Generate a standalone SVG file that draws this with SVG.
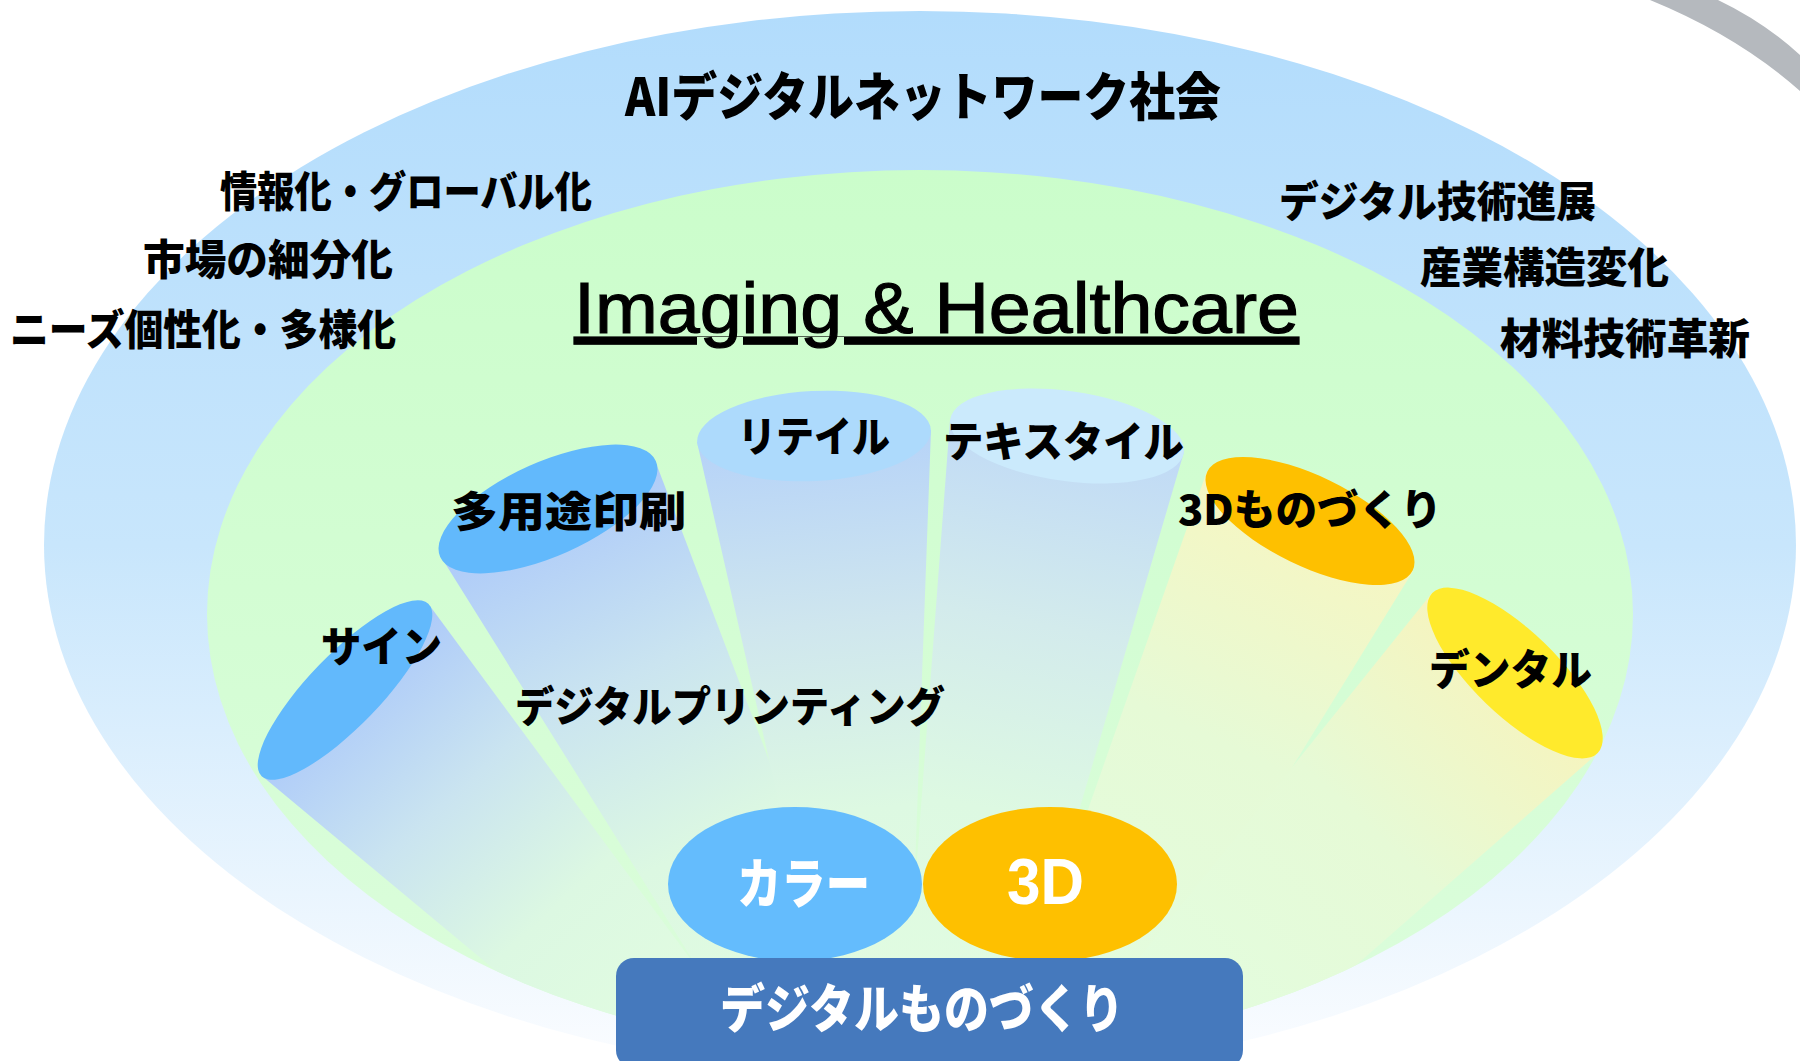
<svg xmlns="http://www.w3.org/2000/svg" width="1800" height="1061" viewBox="0 0 1800 1061">
<style>
.lbl{font-family:"Noto Sans CJK JP","Noto Sans",sans-serif;font-weight:900;fill:#000}
.wht{font-family:"Noto Sans CJK JP","Noto Sans",sans-serif;font-weight:900;fill:#fff}
</style>
<defs>
<linearGradient id="gOuter" gradientUnits="userSpaceOnUse" x1="0" y1="11" x2="0" y2="1079">
<stop offset="0" stop-color="#b2dcfc"/><stop offset="0.5" stop-color="#c8e6fc"/><stop offset="1" stop-color="#fcfdff"/>
</linearGradient>
<linearGradient id="gInner" gradientUnits="userSpaceOnUse" x1="0" y1="170" x2="0" y2="1058">
<stop offset="0" stop-color="#cbfdcb"/><stop offset="1" stop-color="#dcfddc"/>
</linearGradient>
<linearGradient id="bSign" gradientUnits="userSpaceOnUse" x1="346" y1="691" x2="684" y2="1060">
<stop offset="0" stop-color="#aecbf9"/><stop offset="0.3" stop-color="#cae4f0"/><stop offset="0.6" stop-color="#dcf8e2"/><stop offset="1" stop-color="#e2fde0"/>
</linearGradient>
<linearGradient id="bMulti" gradientUnits="userSpaceOnUse" x1="549" y1="511" x2="819" y2="1060">
<stop offset="0" stop-color="#aecbf9"/><stop offset="0.3" stop-color="#cae4f0"/><stop offset="0.6" stop-color="#dcf8e2"/><stop offset="1" stop-color="#e2fde0"/>
</linearGradient>
<linearGradient id="bRetail" gradientUnits="userSpaceOnUse" x1="814" y1="436" x2="872" y2="1060">
<stop offset="0" stop-color="#b6d3f8"/><stop offset="0.3" stop-color="#cfe6ee"/><stop offset="0.6" stop-color="#ddf9e2"/><stop offset="1" stop-color="#e2fde0"/>
</linearGradient>
<linearGradient id="bTex" gradientUnits="userSpaceOnUse" x1="1067" y1="436" x2="954" y2="1060">
<stop offset="0" stop-color="#c0daf6"/><stop offset="0.3" stop-color="#d3ebec"/><stop offset="0.6" stop-color="#ddf9e2"/><stop offset="1" stop-color="#e2fde0"/>
</linearGradient>
<linearGradient id="b3d" gradientUnits="userSpaceOnUse" x1="1310" y1="521" x2="1056" y2="1060">
<stop offset="0" stop-color="#f6f6c2"/><stop offset="0.4" stop-color="#e6fad6"/><stop offset="1" stop-color="#e2fde0"/>
</linearGradient>
<linearGradient id="bDent" gradientUnits="userSpaceOnUse" x1="1515" y1="673" x2="1152" y2="1060">
<stop offset="0" stop-color="#f6f4be"/><stop offset="0.4" stop-color="#e6fad6"/><stop offset="1" stop-color="#e2fde0"/>
</linearGradient>
<clipPath id="clipInner"><ellipse cx="920" cy="614" rx="713" ry="444"/></clipPath>
</defs>

<g id="background">
<rect x="0" y="0" width="1800" height="1061" fill="#ffffff"/>
<path d="M1650,0 Q1738,36 1800,91 L1800,55 Q1764,22 1718,0 Z" fill="#b5b9be"/>
</g>

<g id="society">
<ellipse cx="920" cy="545" rx="876" ry="534" fill="url(#gOuter)"/>
</g>

<g id="imaging">
<ellipse cx="920" cy="614" rx="713" ry="444" fill="url(#gInner)"/>
<text x="574" y="333" font-family="Liberation Sans, Arial, sans-serif" font-size="72" fill="#000" stroke="#000" stroke-width="1.2" textLength="725" lengthAdjust="spacingAndGlyphs" text-decoration="underline">Imaging &amp; Healthcare</text>
</g>

<g id="society-labels">
<text class="lbl" x="625" y="116" font-size="52" textLength="596" lengthAdjust="spacingAndGlyphs">AIデジタルネットワーク社会</text>
<text class="lbl" x="220" y="207" font-size="42" textLength="372" lengthAdjust="spacingAndGlyphs">情報化・グローバル化</text>
<text class="lbl" x="143" y="275" font-size="42" textLength="250" lengthAdjust="spacingAndGlyphs">市場の細分化</text>
<text class="lbl" x="10" y="345" font-size="42" textLength="386" lengthAdjust="spacingAndGlyphs">ニーズ個性化・多様化</text>
<text class="lbl" x="1279" y="217" font-size="42" textLength="317" lengthAdjust="spacingAndGlyphs">デジタル技術進展</text>
<text class="lbl" x="1420" y="283" font-size="42" textLength="249" lengthAdjust="spacingAndGlyphs">産業構造変化</text>
<text class="lbl" x="1500" y="354" font-size="42" textLength="250" lengthAdjust="spacingAndGlyphs">材料技術革新</text>
</g>

<g id="connectors" clip-path="url(#clipInner)">
<polygon points="262,776 430,606 765,1060 603,1060" fill="url(#bSign)"/>
<polygon points="443,560 656,463 883,1060 755,1060" fill="url(#bMulti)"/>
<polygon points="697,442 931,430 908,1060 837,1060" fill="url(#bRetail)"/>
<polygon points="950,420 1184,452 1006,1060 902,1060" fill="url(#bTex)"/>
<polygon points="1207,471 1413,571 1112,1060 1000,1060" fill="url(#b3d)"/>
<polygon points="1432,593 1598,753 1248,1060 1057,1060" fill="url(#bDent)"/>
</g>

<g id="sign">
<ellipse cx="345" cy="690" rx="120" ry="36" transform="rotate(-46 345 690)" fill="#62b9fc"/>
<text class="lbl" x="321" y="662" font-size="42" textLength="121" lengthAdjust="spacingAndGlyphs">サイン</text>
</g>
<g id="multi-printing">
<ellipse cx="548" cy="509" rx="118" ry="47" transform="rotate(-24 548 509)" fill="#62b9fc"/>
<text class="lbl" x="451" y="527" font-size="42" textLength="235" lengthAdjust="spacingAndGlyphs">多用途印刷</text>
</g>
<g id="retail">
<ellipse cx="814" cy="436" rx="117" ry="45" transform="rotate(-3 814 436)" fill="#addafc"/>
<text class="lbl" x="738" y="452" font-size="42" textLength="152" lengthAdjust="spacingAndGlyphs">リテイル</text>
</g>
<g id="textile">
<ellipse cx="1067" cy="436" rx="118" ry="45" transform="rotate(8 1067 436)" fill="#cbeafc"/>
<text class="lbl" x="943" y="457" font-size="42" textLength="241" lengthAdjust="spacingAndGlyphs">テキスタイル</text>
</g>
<g id="3d-monozukuri">
<ellipse cx="1310" cy="521" rx="114" ry="45" transform="rotate(25.8 1310 521)" fill="#fec000"/>
<text class="lbl" x="1178" y="525" font-size="42" textLength="264" lengthAdjust="spacingAndGlyphs">3Dものづくり</text>
</g>
<g id="dental">
<ellipse cx="1515" cy="673" rx="115" ry="42" transform="rotate(44 1515 673)" fill="#ffea2c"/>
<text class="lbl" x="1429" y="685" font-size="42" textLength="163" lengthAdjust="spacingAndGlyphs">デンタル</text>
</g>
<g id="digital-printing">
<text class="lbl" x="515" y="722" font-size="42" textLength="430" lengthAdjust="spacingAndGlyphs">デジタルプリンティング</text>
</g>

<g id="color">
<ellipse cx="795" cy="884" rx="127" ry="77" fill="#64bcfd"/>
<text class="wht" x="737" y="904" font-size="54" textLength="133" lengthAdjust="spacingAndGlyphs">カラー</text>
</g>
<g id="threeD">
<ellipse cx="1050" cy="884" rx="127" ry="77" fill="#fec000"/>
<text x="1007" y="904" font-family="Liberation Sans, Arial, sans-serif" font-weight="700" font-size="64" fill="#fff" textLength="77" lengthAdjust="spacingAndGlyphs">3D</text>
</g>
<g id="digital-monozukuri">
<rect x="616" y="958" width="627" height="110" rx="18" fill="#4579bd"/>
<text class="wht" x="720" y="1028" font-size="52" textLength="404" lengthAdjust="spacingAndGlyphs">デジタルものづくり</text>
</g>
</svg>
